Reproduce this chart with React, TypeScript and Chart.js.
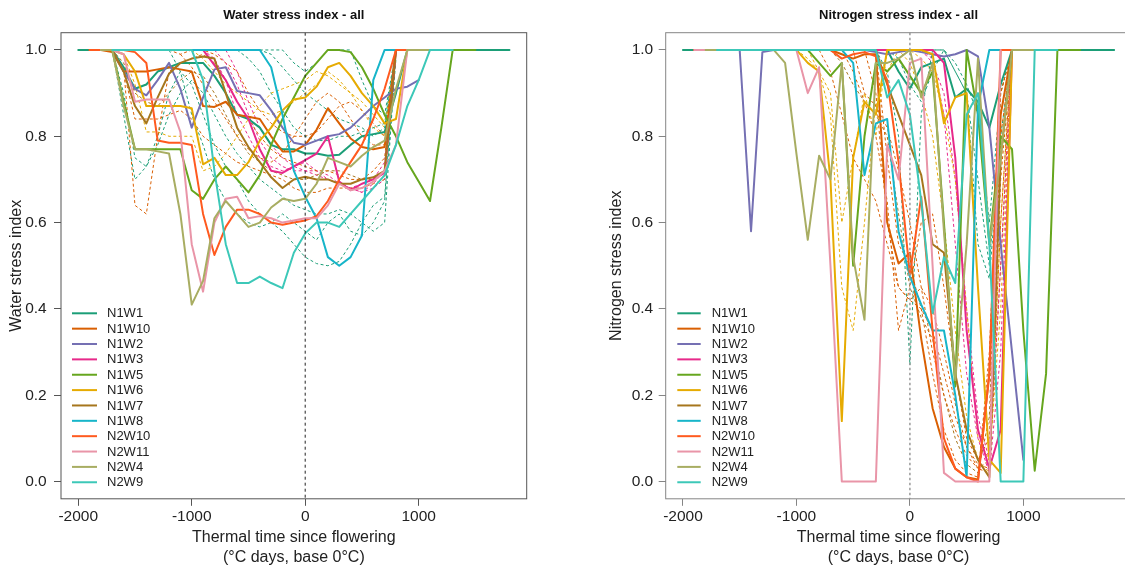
import React, { useEffect, useRef } from "react";
import { Chart, registerables } from "chart.js";

Chart.register(...registerables);

const FONT = "'Liberation Sans', Arial, Helvetica, sans-serif";
const _ = null;

// Shared thermal-time grid (°C days since flowering)
const THERMAL_TIME = [-2000, -1900, -1800, -1700, -1600, -1500, -1400, -1300, -1200, -1100, -1000, -900, -800, -700, -600, -500, -400, -300, -200, -100, 0, 100, 200, 300, 400, 500, 600, 700, 800, 900, 1000, 1100, 1200, 1300, 1400, 1500, 1600, 1700, 1800];

const X_TICKS = [-2000, -1000, 0, 1000];
const Y_TICKS = [0, 0.2, 0.4, 0.6, 0.8, 1.0];

const SERIES_NAMES = ["N1W1", "N1W10", "N1W2", "N1W3", "N1W5", "N1W6", "N1W7", "N1W8", "N2W10", "N2W11", "N2W4", "N2W9"];
const SERIES_COLORS = ["#1B9E77", "#D95F02", "#7570B3", "#E7298A", "#66A61E", "#E6AB02", "#A6761D", "#17B5C9", "#FF5A1F", "#E995A8", "#A8AD62", "#3CC8B8"];

// ---------- Water stress index (solid, mean per treatment) ----------
const W_N1W1 = [1, 1, 1, 1, 0.96, 0.91, 0.92, 0.95, 0.96, 0.97, 0.97, 0.97, 0.94, 0.90, 0.85, 0.84, 0.82, 0.78, 0.77, 0.77, 0.76, 0.76, 0.755, 0.757, 0.78, 0.80, 0.805, 0.81, 0.90, 1, 1, 1, 1, 1, 1, 1, 1, 1, 1];
const W_N1W10 = [_, 1, 1, 0.995, 0.95, 0.95, 0.95, 0.955, 0.96, 0.955, 0.95, 0.87, 0.868, 0.88, 0.85, 0.845, 0.84, 0.80, 0.765, 0.765, 0.78, 0.815, 0.865, 0.83, 0.795, 0.775, 0.77, 0.775, 1, 1, _, _, _, _, _, _, _, _, _];
const W_N1W2 = [_, _, _, 1, 0.95, 0.91, 0.895, 0.93, 0.97, 0.91, 0.82, 0.89, 0.955, 0.96, 0.905, 0.90, 0.895, 0.86, 0.82, 0.785, 0.78, 0.79, 0.80, 0.805, 0.82, 0.845, 0.87, 0.89, 0.91, 0.915, 0.93, _, _, _, _, _, _, _, _];
const W_N1W3 = [_, _, _, 1, 1, 1, 1, 1, 1, 1, 1, 1, 0.965, 0.93, 0.88, 0.84, 0.77, 0.72, 0.715, 0.73, 0.745, 0.76, 0.80, 0.695, 0.675, 0.69, 0.70, 0.715, 1, 1, _, _, _, _, _, _, _, _, _];
const W_N1W5 = [_, _, _, 1, 0.88, 0.77, 0.77, 0.77, 0.77, 0.77, 0.675, 0.655, 0.70, 0.73, 0.70, 0.67, 0.71, 0.78, 0.84, 0.89, 0.94, 0.97, 1, 1, 0.995, 0.96, 0.91, 0.85, 0.80, 0.74, 0.695, 0.65, 0.82, 1, 1, 1, _, _, _];
const W_N1W6 = [_, _, _, 1, 0.99, 0.95, 0.87, 0.87, 0.87, 0.87, 0.865, 0.735, 0.75, 0.71, 0.71, 0.74, 0.79, 0.82, 0.86, 0.885, 0.89, 0.915, 0.96, 0.97, 0.94, 0.90, 0.87, 0.83, 0.84, 1, _, _, _, _, _, _, _, _, _];
const W_N1W7 = [_, _, _, 1, 0.95, 0.87, 0.83, 0.89, 0.945, 0.97, 0.98, 0.985, 0.98, 0.90, 0.82, 0.775, 0.74, 0.705, 0.68, 0.70, 0.706, 0.70, 0.70, 0.69, 0.69, 0.70, 0.705, 0.72, 1, 1, _, _, _, _, _, _, _, _, _];
const W_N1W8 = [_, _, _, 1, 1, 1, 1, 1, 1, 1, 1, 1, 1, 1, 1, 1, 1, 0.96, 0.85, 0.72, 0.66, 0.61, 0.52, 0.50, 0.52, 0.57, 0.93, 1, 1, 1, 1, 1, _, _, _, _, _, _, _];
const W_N2W10 = [_, 1, 1, 1, 1, 0.995, 0.97, 0.79, 0.785, 0.785, 0.78, 0.62, 0.525, 0.59, 0.63, 0.63, 0.62, 0.60, 0.595, 0.60, 0.605, 0.615, 0.65, 0.70, 0.74, 0.78, 0.84, 0.91, 1, 1, _, _, _, _, _, _, _, _, _];
const W_N2W11 = [_, _, 1, 1, 0.99, 0.88, 0.885, 0.885, 0.885, 0.81, 0.55, 0.44, 0.60, 0.655, 0.66, 0.61, 0.615, 0.61, 0.60, 0.605, 0.61, 0.61, 0.64, 0.69, 0.675, 0.68, 0.695, 0.72, 0.78, 1, _, _, _, _, _, _, _, _, _];
const W_N2W4 = [_, _, 1, 1, 0.87, 0.77, 0.77, 0.765, 0.76, 0.62, 0.41, 0.465, 0.61, 0.65, 0.62, 0.59, 0.60, 0.635, 0.655, 0.65, 0.655, 0.69, 0.75, 0.74, 0.73, 0.755, 0.775, 0.79, 0.91, 1, 1, 1, _, _, _, _, _, _, _];
const W_N2W9 = [_, _, _, 1, 1, 1, 1, 1, 1, 1, 1, 0.93, 0.72, 0.55, 0.46, 0.46, 0.475, 0.46, 0.448, 0.53, 0.575, 0.60, 0.60, 0.59, 0.62, 0.65, 0.68, 0.71, 0.78, 0.87, 0.93, 1, 1, 1, _, _, _, _, _];

// ---------- Water stress index (dashed, individual plots) ----------
const WD_1 = [_, _, _, 1, 0.96, 0.64, 0.62, 0.80, 0.95, 0.97, 0.98, 0.99, 0.97, 0.93, 0.88, 0.84, 0.80, 0.77, 0.75, 0.74, 0.73, 0.72, 0.72, 0.71, 0.70, 0.70, 0.72, 0.75, 1, _, _, _, _, _, _, _, _, _, _];
const WD_2 = [_, _, _, 1, 0.85, 0.70, 0.73, 0.80, 0.90, 0.95, 0.92, 0.85, 0.78, 0.73, 0.70, 0.65, 0.62, 0.60, 0.58, 0.55, 0.52, 0.505, 0.50, 0.51, 0.55, 0.60, 0.64, 0.66, 1, _, _, _, _, _, _, _, _, _, _];
const WD_3 = [_, _, _, _, _, _, _, _, _, _, _, _, _, 1, 1, 1, 1, 0.99, 0.96, 0.93, 0.90, 0.88, 0.86, 0.84, 0.83, 0.82, 0.80, 0.82, 1, _, _, _, _, _, _, _, _, _, _];
const WD_4 = [_, _, _, 1, 0.95, 0.84, 0.84, 0.84, 0.85, 0.86, 0.84, 0.80, 0.78, 0.76, 0.74, 0.73, 0.72, 0.71, 0.70, 0.68, 0.67, 0.67, 0.68, 0.68, 0.68, 0.68, 0.69, 0.70, 1, _, _, _, _, _, _, _, _, _, _];
const WD_5 = [_, _, _, 1, 0.99, 0.92, 0.81, 0.81, 0.80, 0.80, 0.80, 0.72, 0.73, 0.76, 0.80, 0.84, 0.87, 0.90, 0.91, 0.92, 0.93, 0.95, 0.94, 0.92, 0.90, 0.88, 0.85, 0.82, 1, _, _, _, _, _, _, _, _, _, _];
const WD_6 = [_, _, _, _, _, _, _, _, _, _, 1, 1, 0.98, 0.93, 0.85, 0.80, 0.75, 0.73, 0.72, 0.73, 0.74, 0.72, 0.70, 0.69, 0.68, 0.69, 0.70, 0.74, 1, _, _, _, _, _, _, _, _, _, _];
const WD_7 = [_, _, _, _, _, _, _, _, _, _, _, _, _, _, 1, 0.98, 0.95, 0.90, 0.86, 0.82, 0.80, 0.79, 0.79, 0.80, 0.80, 0.81, 0.82, 0.83, 1, _, _, _, _, _, _, _, _, _, _];
const WD_8 = [_, _, _, _, _, _, _, _, _, _, _, _, _, _, _, _, 1, 1, 1, 0.97, 0.95, 0.97, 1, 1, 1, 0.93, 0.87, 0.85, 1, _, _, _, _, _, _, _, _, _, _];
const WD_9 = [_, _, _, _, _, _, _, _, _, 0.99, 0.96, 0.92, 0.88, 0.84, 0.80, 0.77, 0.75, 0.74, 0.76, 0.80, 0.84, 0.88, 0.90, 0.88, 0.84, 0.80, 0.78, 0.78, 1, _, _, _, _, _, _, _, _, _, _];
const WD_10 = [_, _, _, _, _, _, _, _, 1, 0.95, 0.85, 0.78, 0.70, 0.65, 0.62, 0.60, 0.59, 0.60, 0.62, 0.60, 0.58, 0.56, 0.60, 0.62, 0.58, 0.57, 0.60, 0.65, 0.98, _, _, _, _, _, _, _, _, _, _];
const WD_11 = [_, _, _, 1, 0.97, 0.90, 0.88, 0.87, 0.90, 0.93, 0.95, 0.94, 0.90, 0.85, 0.80, 0.76, 0.74, 0.72, 0.71, 0.70, 0.70, 0.71, 0.72, 0.72, 0.71, 0.70, 0.70, 0.72, 1, _, _, _, _, _, _, _, _, _, _];
const WD_12 = [_, _, _, _, _, _, _, _, _, _, _, _, 1, 0.97, 0.92, 0.85, 0.79, 0.75, 0.73, 0.72, 0.72, 0.72, 0.71, 0.69, 0.68, 0.67, 0.68, 0.70, 1, _, _, _, _, _, _, _, _, _, _];
const WD_13 = [_, _, _, _, _, _, _, 1, 1, 0.99, 1, 1, 0.99, 0.97, 0.95, 0.90, 0.86, 0.83, 0.81, 0.80, 0.80, 0.81, 0.84, 0.87, 0.88, 0.86, 0.83, 0.80, 1, _, _, _, _, _, _, _, _, _, _];
const WD_14 = [_, _, _, 1, 0.90, 0.75, 0.73, 0.78, 0.85, 0.90, 0.93, 0.90, 0.85, 0.80, 0.76, 0.73, 0.70, 0.68, 0.66, 0.64, 0.63, 0.62, 0.62, 0.63, 0.62, 0.60, 0.58, 0.60, 1, _, _, _, _, _, _, _, _, _, _];
const WD_15 = [_, _, _, _, _, _, _, _, _, _, _, _, _, 1, 0.95, 0.88, 0.82, 0.78, 0.75, 0.73, 0.72, 0.71, 0.70, 0.69, 0.68, 0.67, 0.69, 0.72, 1, _, _, _, _, _, _, _, _, _, _];
const WD_16 = [_, _, _, _, _, _, _, _, _, _, 1, 0.98, 0.95, 0.92, 0.90, 0.88, 0.86, 0.85, 0.86, 0.88, 0.90, 0.92, 0.95, 0.93, 0.90, 0.86, 0.82, 0.80, 1, _, _, _, _, _, _, _, _, _, _];
const WD_COLORS = ["#D95F02", "#1B9E77", "#1B9E77", "#D95F02", "#E6AB02", "#E7298A", "#1B9E77", "#1B9E77", "#D95F02", "#1B9E77", "#A6761D", "#E7298A", "#D95F02", "#1B9E77", "#E7298A", "#E6AB02"];

// ---------- Nitrogen stress index (solid) ----------
const N_N1W1 = [1, 1, 1, 1, 1, 1, 1, 1, 1, 1, 1, 1, 1, 1, 1, 1, 1, 1, 1, 0.95, 0.91, 0.96, 0.97, 0.98, 0.89, 0.91, 0.88, 0.82, 0.92, 1, 1, 1, 1, 1, 1, 1, 1, 1, 1];
const N_N1W10 = [_, 1, 1, 1, 1, 1, 1, 1, 1, 1, 1, 1, 1, 1, 0.99, 0.98, 0.99, 0.99, 0.60, 0.505, 0.53, 0.33, 0.17, 0.08, 0.03, 0.01, 0.005, 0.25, 0.85, 1, _, _, _, _, _, _, _, _, _];
const N_N1W2 = [_, _, _, _, 1, 1, 0.58, 0.995, 1, 1, 1, 1, 1, 1, 1, 1, 1, 0.995, 0.99, 0.995, 1, 0.995, 0.99, 0.985, 0.99, 1, 0.985, 0.82, 0.55, 0.30, 0.05, _, _, _, _, _, _, _, _];
const N_N1W3 = [_, _, _, 1, 1, 1, 1, 1, 1, 1, 1, 1, 1, 1, 1, 1, 1, 1, 1, 1, 1, 1, 1, 0.97, 0.75, 0.35, 0.12, 0.03, 0.12, 1, _, _, _, _, _, _, _, _, _];
const N_N1W5 = [_, _, _, 1, 1, 1, 1, 1, 1, 1, 1, 1, 0.97, 0.94, 0.97, 0.50, 0.80, 0.97, 0.95, 0.98, 0.94, 0.90, 0.95, 0.60, 0.22, 1, 0.85, 0.55, 0.80, 0.77, 0.35, 0.025, 0.25, 1, 1, 1, _, _, _];
const N_N1W6 = [_, _, _, 1, 1, 1, 1, 1, 1, 1, 1, 0.97, 0.95, 0.70, 0.14, 0.75, 0.88, 0.85, 1, 1, 1, 1, 0.99, 0.83, 0.89, 0.90, 0.45, 0.05, 0.02, 1, _, _, _, _, _, _, _, _, _];
const N_N1W7 = [_, _, _, 1, 1, 1, 1, 1, 1, 1, 1, 1, 1, 1, 1, 1, 1, 1, 0.92, 0.85, 0.78, 0.71, 0.55, 0.53, 0.25, 0.12, 0.05, 0.01, 0.75, 1, _, _, _, _, _, _, _, _, _];
const N_N1W8 = [_, _, _, 1, 1, 1, 1, 1, 1, 1, 1, 1, 1, 1, 1, 0.97, 0.71, 0.83, 0.84, 0.58, 0.475, 0.41, 0.35, 0.35, 0.20, 0.01, 0.87, 1, 1, 1, _, _, _, _, _, _, _, _, _];
const N_N2W10 = [_, 1, 1, 1, 1, 1, 1, 1, 1, 1, 1, 1, 1, 1, 0.98, 0.99, 0.995, 0.985, 0.93, 0.74, 0.48, 0.66, 0.35, 0.10, 0.03, 0.01, 0, 0.25, 1, 1, _, _, _, _, _, _, _, _, _];
const N_N2W11 = [_, 1, 1, 1, 1, 1, 1, 1, 1, 1, 1, 0.90, 0.96, 0.50, 0, 0, 0, 0, 0.78, 0.70, 0.97, 0.98, 0.50, 0.02, 0, 0, 0, 0, 1, _, _, _, _, _, _, _, _, _, _];
const N_N2W4 = [_, _, 1, 1, 1, 1, 1, 1, 1, 0.97, 0.76, 0.56, 0.755, 0.70, 0.97, 0.52, 0.375, 0.97, 0.97, 0.98, 1, 0.89, 0.97, 0.58, 0.235, 0.55, 0.98, 0.55, 0.75, 1, 1, 1, _, _, _, _, _, _, _];
const N_N2W9 = [_, _, _, 1, 1, 1, 1, 1, 1, 1, 1, 1, 1, 1, 1, 1, 1, 1, 0.89, 0.93, 0.85, 0.65, 0.39, 0.52, 0.46, 0.85, 0.90, 0.55, 0, 0, 0, 1, 1, 1, _, _, _, _, _];

// ---------- Nitrogen stress index (dashed) ----------
const ND_1 = [_, _, _, _, _, _, _, _, _, _, _, _, _, _, _, _, _, 1, 0.75, 0.55, 0.50, 0.40, 0.25, 0.12, 0.05, 0.02, 0.01, 0.30, 0.90, 1, _, _, _, _, _, _, _, _, _];
const ND_2 = [_, _, _, _, _, _, _, _, _, _, _, _, _, _, _, _, 1, 0.90, 0.60, 0.45, 0.42, 0.45, 0.40, 0.30, 0.18, 0.08, 0.03, 0.02, 0.70, 1, _, _, _, _, _, _, _, _, _];
const ND_3 = [_, _, _, _, _, _, _, _, _, _, _, _, _, _, 1, 0.95, 0.88, 0.80, 0.65, 0.35, 0.45, 0.60, 0.62, 0.45, 0.25, 0.10, 0.05, 0.10, 0.80, 1, _, _, _, _, _, _, _, _, _];
const ND_4 = [_, _, _, _, _, _, _, _, _, _, _, _, _, _, _, _, _, 1, 0.95, 0.80, 0.27, 0.85, 1, 1, 0.95, 0.90, 0.55, 0.47, 0.80, 1, _, _, _, _, _, _, _, _, _];
const ND_5 = [_, _, _, _, _, _, _, _, _, _, _, _, _, _, _, _, _, _, _, _, 1, 1, 0.98, 0.85, 0.55, 0.25, 0.10, 0.02, 0.30, 1, _, _, _, _, _, _, _, _, _];
const ND_6 = [_, _, _, _, _, _, _, _, _, _, _, _, _, _, _, 1, 0.90, 0.87, 0.82, 0.72, 0.60, 0.45, 0.30, 0.20, 0.12, 0.06, 0.03, 0.05, 0.60, 1, _, _, _, _, _, _, _, _, _];
const ND_7 = [_, _, _, _, _, _, _, _, _, _, 1, 0.98, 0.95, 0.90, 0.60, 0.75, 0.90, 0.80, 1, 1, 1, 0.98, 0.95, 0.85, 0.70, 0.40, 0.10, 0.05, 0.40, 1, _, _, _, _, _, _, _, _, _];
const ND_8 = [_, _, _, _, _, _, _, _, _, _, _, _, _, _, _, _, _, _, _, _, _, _, 1, 1, 0.95, 0.90, 0.70, 0.50, 0.85, 1, _, _, _, _, _, _, _, _, _];
const ND_9 = [_, _, _, _, _, _, _, _, _, _, _, _, _, _, _, _, _, _, _, _, _, 1, 0.97, 0.90, 0.70, 0.40, 0.15, 0.05, 0.50, 1, _, _, _, _, _, _, _, _, _];
const ND_10 = [_, _, _, _, _, _, _, _, _, _, _, _, _, 1, 0.97, 0.92, 0.88, 0.85, 0.80, 0.62, 0.45, 0.38, 0.33, 0.20, 0.10, 0.04, 0.02, 0.15, 0.90, 1, _, _, _, _, _, _, _, _, _];
const ND_11 = [_, _, _, _, _, _, _, _, _, _, _, _, 1, 0.95, 0.85, 0.75, 0.70, 0.65, 0.55, 0.45, 0.42, 0.40, 0.35, 0.25, 0.15, 0.08, 0.04, 0.03, 0.50, 1, _, _, _, _, _, _, _, _, _];
const ND_12 = [_, _, _, _, _, _, _, _, _, _, _, 1, 0.95, 0.85, 0.45, 0.35, 0.60, 0.88, 0.95, 1, 0.97, 0.90, 0.80, 0.60, 0.35, 0.15, 0.05, 0.02, 0.60, 1, _, _, _, _, _, _, _, _, _];
const ND_13 = [_, _, _, _, _, _, _, _, _, _, _, _, _, _, _, _, _, _, 1, 0.98, 0.92, 0.88, 0.95, 1, 0.97, 0.92, 0.85, 0.60, 0.90, 1, _, _, _, _, _, _, _, _, _];
const ND_COLORS = ["#D95F02", "#D95F02", "#D95F02", "#1B9E77", "#E7298A", "#D95F02", "#E6AB02", "#1B9E77", "#E7298A", "#A6761D", "#D95F02", "#E6AB02", "#1B9E77"];

const WATER_SOLID = [W_N1W1, W_N1W10, W_N1W2, W_N1W3, W_N1W5, W_N1W6, W_N1W7, W_N1W8, W_N2W10, W_N2W11, W_N2W4, W_N2W9];
const WATER_DASHED = [WD_1, WD_2, WD_3, WD_4, WD_5, WD_6, WD_7, WD_8, WD_9, WD_10, WD_11, WD_12, WD_13, WD_14, WD_15, WD_16];
const NITRO_SOLID = [N_N1W1, N_N1W10, N_N1W2, N_N1W3, N_N1W5, N_N1W6, N_N1W7, N_N1W8, N_N2W10, N_N2W11, N_N2W4, N_N2W9];
const NITRO_DASHED = [ND_1, ND_2, ND_3, ND_4, ND_5, ND_6, ND_7, ND_8, ND_9, ND_10, ND_11, ND_12, ND_13];

const X_MIN = -2152;
const X_MAX = 1952;
const Y_MIN = -0.04;
const Y_MAX = 1.04;

type PanelCfg = {
  title: string;
  yTitle: string;
  solid: (number | null)[][];
  dashed: (number | null)[][];
  dashedColors: string[];
  yWidth: number;
  padRight: number;
  yTitlePad: number;
  yTickPad: number;
  boxColor: string;
  zeroColor: string;
  zeroWidth: number;
  zeroDash: number[];
  legendX1: number;
  legendX2: number;
  legendTextX: number;
};

function toPoints(vals: (number | null)[]) {
  return THERMAL_TIME.map((x, j) => ({ x, y: vals[j] }));
}

function makeChart(canvas: HTMLCanvasElement, p: PanelCfg) {
  const datasets: any[] = [];
  p.solid.forEach((vals, i) => {
    datasets.push({
      label: SERIES_NAMES[i],
      data: toPoints(vals),
      borderColor: SERIES_COLORS[i],
      borderWidth: 2,
      pointRadius: 0,
      tension: 0,
      fill: false,
      spanGaps: false,
      borderJoinStyle: "round",
      borderCapStyle: "round",
      order: -i,
    });
  });
  p.dashed.forEach((vals, k) => {
    datasets.push({
      label: "rep" + k,
      data: toPoints(vals),
      borderColor: p.dashedColors[k],
      borderWidth: 1,
      borderDash: [3, 2.5],
      pointRadius: 0,
      tension: 0,
      fill: false,
      spanGaps: false,
      order: 100 + k,
    });
  });

  const deco = {
    id: "deco",
    afterDraw(chart: any) {
      const { ctx, chartArea: a, scales } = chart;
      ctx.save();
      const x0 = scales.x.getPixelForValue(0);
      ctx.strokeStyle = p.zeroColor;
      ctx.lineWidth = p.zeroWidth;
      ctx.setLineDash(p.zeroDash);
      ctx.beginPath();
      ctx.moveTo(x0, a.top);
      ctx.lineTo(x0, a.bottom);
      ctx.stroke();
      ctx.setLineDash([]);
      ctx.strokeStyle = p.boxColor;
      ctx.lineWidth = 1;
      ctx.strokeRect(a.left, a.top, a.right - a.left, a.bottom - a.top);
      ctx.fillStyle = "#111";
      ctx.font = `bold 13px ${FONT}`;
      ctx.textAlign = "center";
      ctx.textBaseline = "middle";
      ctx.fillText(p.title, (a.left + a.right) / 2, 15.2);
      ctx.font = `13px ${FONT}`;
      ctx.textAlign = "left";
      SERIES_NAMES.forEach((name, i) => {
        const y = 313.3 + i * 15.36;
        ctx.strokeStyle = SERIES_COLORS[i];
        ctx.lineWidth = 2;
        ctx.beginPath();
        ctx.moveTo(p.legendX1, y);
        ctx.lineTo(p.legendX2, y);
        ctx.stroke();
        ctx.fillStyle = "#222";
        ctx.fillText(name, p.legendTextX, y + 0.5);
      });
      ctx.restore();
    },
  };

  return new Chart(canvas, {
    type: "line",
    data: { datasets },
    plugins: [deco],
    options: {
      responsive: false,
      animation: false,
      devicePixelRatio: 1,
      events: [],
      layout: { padding: { top: 32.7, right: p.padRight, left: 0, bottom: 0 } },
      plugins: {
        legend: { display: false },
        tooltip: { enabled: false },
        title: { display: false },
      },
      scales: {
        x: {
          type: "linear",
          min: X_MIN,
          max: X_MAX,
          afterBuildTicks: (s: any) => {
            s.ticks = X_TICKS.map((v) => ({ value: v }));
          },
          afterFit: (s: any) => {
            s.height = 71.2;
          },
          grid: { display: true, drawOnChartArea: false, drawTicks: true, tickLength: 7, color: p.boxColor, lineWidth: 1 },
          border: { display: false },
          ticks: {
            autoSkip: false,
            maxRotation: 0,
            padding: 2,
            color: "#222",
            font: { family: FONT, size: 15.5 },
            callback: (v: any) => String(v),
          },
          title: {
            display: true,
            text: ["Thermal time since flowering", "(°C days, base 0°C)"],
            color: "#222",
            font: { family: FONT, size: 16, lineHeight: 1.23 },
            padding: { top: 0, bottom: 3 },
          },
        },
        y: {
          type: "linear",
          min: Y_MIN,
          max: Y_MAX,
          afterBuildTicks: (s: any) => {
            s.ticks = Y_TICKS.map((v) => ({ value: v }));
          },
          afterFit: (s: any) => {
            s.width = p.yWidth;
          },
          grid: { display: true, drawOnChartArea: false, drawTicks: true, tickLength: 7, color: p.boxColor, lineWidth: 1 },
          border: { display: false },
          ticks: {
            autoSkip: false,
            padding: p.yTickPad,
            color: "#222",
            font: { family: FONT, size: 15.5 },
            callback: (v: any) => Number(v).toFixed(1),
          },
          title: {
            display: true,
            text: p.yTitle,
            color: "#222",
            font: { family: FONT, size: 16, lineHeight: 1.23 },
            padding: { top: p.yTitlePad, bottom: 0 },
          },
        },
      },
    } as any,
  });
}

export default function App() {
  const leftRef = useRef<HTMLCanvasElement>(null);
  const rightRef = useRef<HTMLCanvasElement>(null);

  useEffect(() => {
    const left = makeChart(leftRef.current!, {
      title: "Water stress index - all",
      yTitle: "Water stress index",
      solid: WATER_SOLID,
      dashed: WATER_DASHED,
      dashedColors: WD_COLORS,
      yWidth: 61,
      padRight: 33.3,
      yTitlePad: 6.9,
      yTickPad: 7.3,
      boxColor: "#555555",
      zeroColor: "#222222",
      zeroWidth: 1,
      zeroDash: [3, 3],
      legendX1: 72,
      legendX2: 97,
      legendTextX: 107,
    });
    const right = makeChart(rightRef.current!, {
      title: "Nitrogen stress index - all",
      yTitle: "Nitrogen stress index",
      solid: NITRO_SOLID,
      dashed: NITRO_DASHED,
      dashedColors: ND_COLORS,
      yWidth: 105.7,
      padRight: 28.6,
      yTitlePad: 46.9,
      yTickPad: 5.5,
      boxColor: "#858585",
      zeroColor: "#9a9a9a",
      zeroWidth: 1.5,
      zeroDash: [2.5, 2.5],
      legendX1: 117.3,
      legendX2: 140.7,
      legendTextX: 151.7,
    });
    return () => {
      left.destroy();
      right.destroy();
    };
  }, []);

  return (
    <div style={{ position: "fixed", left: 0, top: 0, width: 1125, height: 570, overflow: "hidden", background: "#ffffff" }}>
      <canvas ref={leftRef} width={560} height={570} style={{ position: "absolute", left: 0, top: 0, width: 560, height: 570 }} />
      <canvas ref={rightRef} width={600} height={570} style={{ position: "absolute", left: 560, top: 0, width: 600, height: 570 }} />
    </div>
  );
}
